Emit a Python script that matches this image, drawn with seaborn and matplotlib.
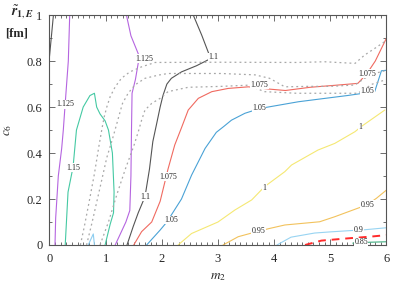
import matplotlib
matplotlib.use("Agg")
import matplotlib.pyplot as plt
import seaborn as sns
from matplotlib.ticker import MultipleLocator

# contour lines: (x = m2, y = c6)
c1175_x = [0.69, 0.78, 0.80]
c1175_y = [0.0, 0.048, 0.0]

c115_x = [0.28, 0.33, 0.42, 0.48, 0.60, 0.72, 0.80, 0.84, 0.90, 0.99, 1.05, 1.12, 1.15, 1.14, 1.08, 0.99]
c115_y = [0.0, 0.23, 0.34, 0.50, 0.60, 0.65, 0.66, 0.60, 0.57, 0.54, 0.50, 0.40, 0.23, 0.14, 0.09, 0.0]

c1125a_x = [0.36, 0.335, 0.28, 0.246, 0.217, 0.157, 0.11, 0.098]
c1125a_y = [1.0, 0.80, 0.617, 0.50, 0.42, 0.30, 0.117, 0.0]

c1125b_x = [1.37, 1.45, 1.60, 1.53, 1.47, 1.46, 1.45, 1.43, 1.36, 1.17]
c1125b_y = [1.0, 0.91, 0.82, 0.72, 0.66, 0.50, 0.30, 0.15, 0.10, 0.0]

c11a_x = [0.07, 0.0]
c11a_y = [1.0, 0.82]

c11b_x = [2.56, 2.71, 2.84, 2.91, 2.62, 2.35, 2.17, 2.09, 2.02, 1.97, 1.91, 1.84, 1.78, 1.70, 1.58, 1.49, 1.38]
c11b_y = [1.0, 0.913, 0.83, 0.816, 0.78, 0.753, 0.725, 0.70, 0.65, 0.60, 0.53, 0.45, 0.33, 0.21, 0.14, 0.08, 0.0]

c1075_x = [1.50, 1.64, 1.82, 1.97, 2.11, 2.23, 2.35, 2.47, 2.65, 2.89, 3.18, 3.54, 3.92, 4.2, 4.64, 5.1, 5.49, 5.65, 5.80, 6.0]
c1075_y = [0.0, 0.058, 0.10, 0.19, 0.33, 0.435, 0.51, 0.587, 0.638, 0.667, 0.681, 0.688, 0.678, 0.672, 0.686, 0.695, 0.703, 0.745, 0.80, 0.90]

c105_x = [1.73, 1.97, 2.09, 2.35, 2.53, 2.77, 2.97, 3.10, 3.24, 3.48, 3.75, 4.43, 4.75, 5.30, 5.79, 5.91, 6.0]
c105_y = [0.0, 0.065, 0.10, 0.20, 0.304, 0.42, 0.49, 0.515, 0.543, 0.573, 0.594, 0.623, 0.633, 0.65, 0.667, 0.758, 0.76]

c1_x = [2.29, 2.53, 3.0, 3.30, 3.60, 3.83, 4.19, 4.31, 4.78, 5.08, 5.44, 5.55, 5.97]
c1_y = [0.0, 0.05, 0.10, 0.152, 0.196, 0.254, 0.319, 0.348, 0.413, 0.442, 0.493, 0.515, 0.587]

c095_x = [3.09, 3.36, 3.72, 3.92, 4.19, 4.81, 5.08, 5.49, 5.65, 5.82, 6.0]
c095_y = [0.0, 0.036, 0.06, 0.072, 0.087, 0.101, 0.123, 0.16, 0.174, 0.203, 0.239]

c09_x = [4.05, 4.30, 4.72, 5.0, 5.32, 5.6, 6.0]
c09_y = [0.0, 0.034, 0.052, 0.057, 0.062, 0.066, 0.075]

c085_x = [5.40, 5.70, 6.0]
c085_y = [0.008, 0.012, 0.014]

dash_x = [4.55, 4.84, 5.32, 5.7, 6.0]
dash_y = [0.0, 0.019, 0.029, 0.036, 0.043]

dot1_x = [0.55, 0.62, 0.70, 0.80, 0.88, 0.94, 0.975, 1.02, 1.08, 1.17, 1.28, 1.43, 1.64, 1.88, 3.0, 4.42, 4.9, 5.44, 5.61, 5.79, 6.0]
dot1_y = [0.0, 0.08, 0.18, 0.31, 0.43, 0.514, 0.558, 0.60, 0.645, 0.688, 0.725, 0.753, 0.775, 0.794, 0.795, 0.794, 0.797, 0.79, 0.826, 0.855, 0.89]

dot2_x = [0.66, 0.76, 0.90, 1.02, 1.12, 1.20, 1.25, 1.30, 1.40, 1.52, 1.70, 1.94, 2.11, 2.47, 3.06, 3.66, 3.92, 4.19, 4.6, 5.0, 5.44, 5.61, 5.79, 6.0]
dot2_y = [0.0, 0.10, 0.25, 0.38, 0.46, 0.529, 0.573, 0.616, 0.66, 0.696, 0.725, 0.739, 0.746, 0.746, 0.746, 0.74, 0.725, 0.688, 0.69, 0.69, 0.696, 0.725, 0.746, 0.76]

dot3_x = [0.90, 1.05, 1.20, 1.35, 1.50, 1.59, 1.64, 1.70, 1.82, 1.97, 2.11, 2.47, 3.06, 3.53, 3.83, 4.4, 5.0, 5.49, 5.75, 6.0]
dot3_y = [0.0, 0.10, 0.22, 0.33, 0.43, 0.50, 0.543, 0.587, 0.616, 0.638, 0.667, 0.686, 0.69, 0.695, 0.667, 0.66, 0.66, 0.66, 0.70, 0.72]

labels = [("1.125", 0.28, 0.612), ("1.125", 1.68, 0.81), ("1.15", 0.42, 0.336),
          ("1.1", 2.92, 0.818), ("1.1", 1.70, 0.21), ("1.075", 3.74, 0.696),
          ("1.075", 2.12, 0.297), ("1.075", 5.66, 0.745), ("1.05", 3.73, 0.598),
          ("1.05", 5.66, 0.668), ("1.05", 2.17, 0.109), ("1", 3.83, 0.249),
          ("1", 5.53, 0.515), ("0.95", 3.72, 0.062), ("0.95", 5.66, 0.176),
          ("0.9", 5.50, 0.066), ("0.85", 5.55, 0.012)]

grey = "#a8a8a8"
lines = [
    (c1175_x, c1175_y, "#8ccdf0", "-", 0.8),
    (c115_x, c115_y, "#45c9a3", "-", 0.8),
    (c1125a_x, c1125a_y, "#b565e0", "-", 0.8),
    (c1125b_x, c1125b_y, "#b565e0", "-", 0.8),
    (c11a_x, c11a_y, "#555555", "-", 0.8),
    (c11b_x, c11b_y, "#555555", "-", 0.8),
    (c1075_x, c1075_y, "#f06a60", "-", 0.8),
    (c105_x, c105_y, "#4aa2d6", "-", 0.8),
    (c1_x, c1_y, "#f5e873", "-", 0.8),
    (c095_x, c095_y, "#f2c25c", "-", 0.8),
    (c09_x, c09_y, "#98d4f2", "-", 0.8),
    (c085_x, c085_y, "#3fae80", "-", 0.8),
    (dot1_x, dot1_y, grey, (0, (1.5, 2.5)), 0.9),
    (dot2_x, dot2_y, grey, (0, (1.5, 2.5)), 0.9),
    (dot3_x, dot3_y, grey, (0, (1.5, 2.5)), 0.9),
]

sns.set_style("ticks")
plt.rcParams["font.family"] = ["Liberation Serif", "DejaVu Serif"]
plt.rcParams["mathtext.fontset"] = "stix"

fig = plt.figure(figsize=(4.07, 2.85), dpi=100)
ax = fig.add_axes([0.1216, 0.1404, 0.8280, 0.8066])

for xs, ys, col, ls, lw in lines:
    sns.lineplot(x=xs, y=ys, sort=False, estimator=None, color=col,
                 linestyle=ls, linewidth=lw, ax=ax)
sns.lineplot(x=dash_x, y=dash_y, sort=False, estimator=None, color="#ff2a2a",
             linestyle=(0, (4, 3)), linewidth=1.4, ax=ax)

for txt, lx, ly in labels:
    ax.text(lx, ly, txt, fontsize=5.8, ha="center", va="center",
            bbox=dict(boxstyle="square,pad=0.05", fc="white", ec="none"), zorder=5)

ax.set_xlim(0, 6)
ax.set_ylim(0, 1)
ax.xaxis.set_major_locator(MultipleLocator(1))
ax.xaxis.set_minor_locator(MultipleLocator(0.1))
ax.yaxis.set_major_locator(MultipleLocator(0.2))
ax.yaxis.set_minor_locator(MultipleLocator(0.1))
ax.set_yticks([0, 0.2, 0.4, 0.6, 0.8, 1.0], ["0", "0.2", "0.4", "0.6", "0.8", "1"])
ax.tick_params(which="both", direction="in", top=True, right=True,
               labelsize=9, width=0.6, color="#555555")
ax.tick_params(axis="x", pad=6)
ax.tick_params(axis="y", pad=5)
ax.tick_params(which="major", length=4)
ax.tick_params(which="minor", length=2)
for sp in ax.spines.values():
    sp.set_linewidth(0.8)
    sp.set_color("#555555")

ax.set_xlabel("$m_2$", fontsize=9.5, labelpad=4)
ax.set_ylabel("$c_6$", fontsize=9.5, labelpad=9)
fig.text(0.028, 0.955, "$\\tilde{\\boldsymbol{r}}_{\\mathbf{1},\\boldsymbol{E}}$", fontsize=10, va="center")
fig.text(0.012, 0.884, "[fm]", fontsize=9, fontweight="bold", va="center")

fig.savefig("out.png", dpi=100)
